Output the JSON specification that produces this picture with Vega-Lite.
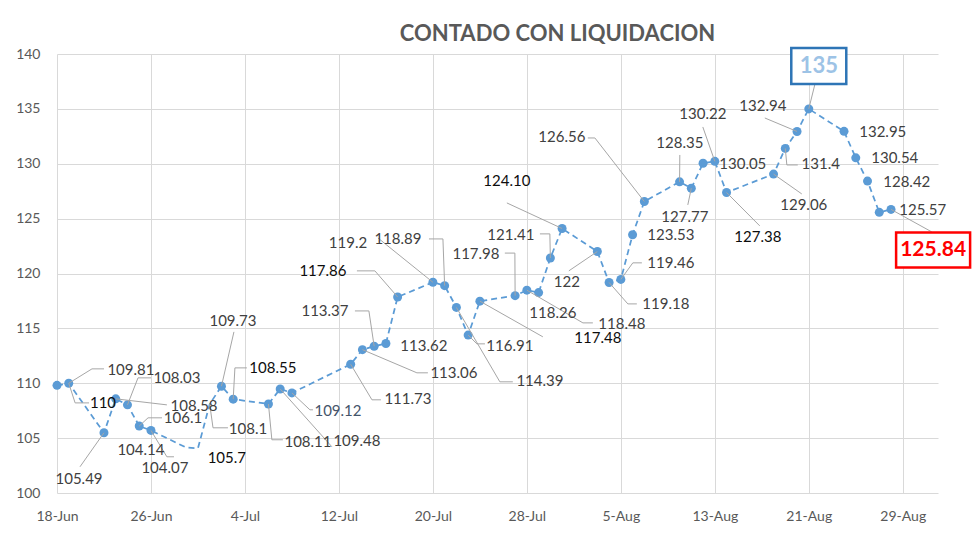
{
  "$schema": "https://vega.github.io/schema/vega-lite/v6.json",
  "width": 881,
  "height": 439,
  "autosize": {"type": "none"},
  "padding": {"left": 57, "top": 54, "right": 42, "bottom": 46},
  "background": "#ffffff",
  "title": {
    "text": "CONTADO CON LIQUIDACION",
    "font": "Lato",
    "fontSize": 22,
    "fontWeight": "bold",
    "color": "#595959",
    "anchor": "middle",
    "dx": 60,
    "offset": -3
  },
  "config": {
    "font": "Lato",
    "view": {"stroke": null},
    "axis": {
      "grid": true,
      "gridColor": "#d9d9d9",
      "gridWidth": 1,
      "domain": false,
      "ticks": false,
      "labelFont": "Lato",
      "labelFontSize": 14,
      "labelColor": "#595959",
      "labelOverlap": false,
      "labelFlush": false,
      "title": null
    }
  },
  "datasets": {
    "ccl": [
      {"date": "2020-06-18", "value": 109.81},
      {"date": "2020-06-19", "value": 110},
      {"date": "2020-06-22", "value": 105.49},
      {"date": "2020-06-23", "value": 108.58},
      {"date": "2020-06-24", "value": 108.03},
      {"date": "2020-06-25", "value": 106.1},
      {"date": "2020-06-26", "value": 105.7},
      {"date": "2020-06-29", "value": 104.14},
      {"date": "2020-06-30", "value": 104.07},
      {"date": "2020-07-01", "value": 108.1},
      {"date": "2020-07-02", "value": 109.73},
      {"date": "2020-07-03", "value": 108.55},
      {"date": "2020-07-06", "value": 108.11},
      {"date": "2020-07-07", "value": 109.48},
      {"date": "2020-07-08", "value": 109.12},
      {"date": "2020-07-13", "value": 111.73},
      {"date": "2020-07-14", "value": 113.06},
      {"date": "2020-07-15", "value": 113.37},
      {"date": "2020-07-16", "value": 113.62},
      {"date": "2020-07-17", "value": 117.86},
      {"date": "2020-07-20", "value": 119.2},
      {"date": "2020-07-21", "value": 118.89},
      {"date": "2020-07-22", "value": 116.91},
      {"date": "2020-07-23", "value": 114.39},
      {"date": "2020-07-24", "value": 117.48},
      {"date": "2020-07-27", "value": 117.98},
      {"date": "2020-07-28", "value": 118.48},
      {"date": "2020-07-29", "value": 118.26},
      {"date": "2020-07-30", "value": 121.41},
      {"date": "2020-07-31", "value": 124.1},
      {"date": "2020-08-03", "value": 122},
      {"date": "2020-08-04", "value": 119.18},
      {"date": "2020-08-05", "value": 119.46},
      {"date": "2020-08-06", "value": 123.53},
      {"date": "2020-08-07", "value": 126.56},
      {"date": "2020-08-10", "value": 128.35},
      {"date": "2020-08-11", "value": 127.77},
      {"date": "2020-08-12", "value": 130.05},
      {"date": "2020-08-13", "value": 130.22},
      {"date": "2020-08-14", "value": 127.38},
      {"date": "2020-08-18", "value": 129.06},
      {"date": "2020-08-19", "value": 131.4},
      {"date": "2020-08-20", "value": 132.94},
      {"date": "2020-08-21", "value": 135},
      {"date": "2020-08-24", "value": 132.95},
      {"date": "2020-08-25", "value": 130.54},
      {"date": "2020-08-26", "value": 128.42},
      {"date": "2020-08-27", "value": 125.57},
      {"date": "2020-08-28", "value": 125.84}
    ],
    "labels": [
      {"label": "109.81", "date": "2020-06-19", "value": 110, "tx": "2020-06-24T07:00Z", "ty": 111.22, "ex": "2020-06-20T23:30Z", "ey": 111.31, "hx": "2020-06-22T00:00Z"},
      {"label": "110", "date": "2020-06-19", "value": 110, "tx": "2020-06-21T22:00Z", "ty": 108.21, "ex": "2020-06-19T13:00Z", "ey": 108.21, "hx": "2020-06-20T17:30Z"},
      {"label": "105.49", "date": "2020-06-22", "value": 105.49, "tx": "2020-06-19T21:00Z", "ty": 101.29, "ex": "2020-06-19T23:00Z", "ey": 102.39},
      {"label": "108.58", "date": "2020-06-23", "value": 108.58, "tx": "2020-06-29T16:00Z", "ty": 107.94, "ex": "2020-06-27T08:30Z", "ey": 108.03},
      {"label": "108.03", "date": "2020-06-24", "value": 108.03, "tx": "2020-06-28T05:00Z", "ty": 110.49, "ex": "2020-06-24T21:30Z", "ey": 110.49, "hx": "2020-06-26T00:00Z"},
      {"label": "106.1", "date": "2020-06-25", "value": 106.1, "tx": "2020-06-28T17:30Z", "ty": 106.85, "ex": "2020-06-25T18:00Z", "ey": 106.85, "hx": "2020-06-26T22:30Z"},
      {"label": "104.14", "date": "2020-06-29", "value": 104.14, "tx": "2020-06-25T03:30Z", "ty": 103.93},
      {"label": "104.07", "date": "2020-06-26", "value": 105.7, "tx": "2020-06-27T04:30Z", "ty": 102.3, "ex": "2020-06-27T08:30Z", "ey": 103.3, "hx": "2020-06-27T23:00Z"},
      {"label": "105.7", "date": "2020-06-26", "value": 105.7, "tx": "2020-07-02T11:00Z", "ty": 103.21},
      {"label": "109.73", "date": "2020-07-02", "value": 109.73, "tx": "2020-07-02T23:30Z", "ty": 115.68, "ex": "2020-07-03T01:30Z", "ey": 114.68},
      {"label": "108.55", "date": "2020-07-03", "value": 108.55, "tx": "2020-07-06T09:00Z", "ty": 111.4, "ex": "2020-07-03T03:30Z", "ey": 111.4, "hx": "2020-07-04T04:00Z"},
      {"label": "108.1", "date": "2020-07-01", "value": 108.1, "tx": "2020-07-04T06:15Z", "ty": 105.85, "ex": "2020-07-01T06:45Z", "ey": 105.94, "hx": "2020-07-02T13:15Z"},
      {"label": "108.11", "date": "2020-07-06", "value": 108.11, "tx": "2020-07-09T08:45Z", "ty": 104.66, "ex": "2020-07-06T07:00Z", "ey": 104.85, "hx": "2020-07-07T05:30Z"},
      {"label": "109.48", "date": "2020-07-07", "value": 109.48, "tx": "2020-07-13T12:45Z", "ty": 104.75, "ex": "2020-07-11T09:40Z", "ey": 104.21},
      {"label": "109.12", "date": "2020-07-08", "value": 109.12, "tx": "2020-07-11T22:00Z", "ty": 107.49, "ex": "2020-07-09T12:45Z", "ey": 107.58, "hx": "2020-07-09T19:00Z"},
      {"label": "111.73", "date": "2020-07-13", "value": 111.73, "tx": "2020-07-17T21:00Z", "ty": 108.58, "ex": "2020-07-14T19:30Z", "ey": 108.49, "hx": "2020-07-15T13:45Z"},
      {"label": "113.06", "date": "2020-07-14", "value": 113.06, "tx": "2020-07-21T19:00Z", "ty": 110.95, "ex": "2020-07-18T15:20Z", "ey": 110.95, "hx": "2020-07-19T13:45Z"},
      {"label": "113.37", "date": "2020-07-15", "value": 113.37, "tx": "2020-07-10T19:30Z", "ty": 116.59, "ex": "2020-07-14T13:15Z", "ey": 116.59, "hx": "2020-07-13T08:40Z"},
      {"label": "113.62", "date": "2020-07-16", "value": 113.62, "tx": "2020-07-19T05:30Z", "ty": 113.41},
      {"label": "117.86", "date": "2020-07-17", "value": 117.86, "tx": "2020-07-10T15:20Z", "ty": 120.24, "ex": "2020-07-15T01:30Z", "ey": 120.24, "hx": "2020-07-13T12:45Z"},
      {"label": "119.2", "date": "2020-07-20", "value": 119.2, "tx": "2020-07-12T18:30Z", "ty": 122.79, "ex": "2020-07-15T07:40Z", "ey": 123.24},
      {"label": "118.89", "date": "2020-07-21", "value": 118.89, "tx": "2020-07-17T00:30Z", "ty": 123.15, "ex": "2020-07-20T20:30Z", "ey": 123.15, "hx": "2020-07-19T16:00Z"},
      {"label": "114.39", "date": "2020-07-22", "value": 116.91, "tx": "2020-07-29T02:40Z", "ty": 110.22, "ex": "2020-07-25T16:50Z", "ey": 110.13, "hx": "2020-07-26T19:20Z"},
      {"label": "116.91", "date": "2020-07-23", "value": 114.39, "tx": "2020-07-26T13:15Z", "ty": 113.41, "ex": "2020-07-23T17:50Z", "ey": 113.59, "hx": "2020-07-24T10:20Z"},
      {"label": "117.48", "date": "2020-07-24", "value": 117.48, "tx": "2020-08-03T01:00Z", "ty": 114.13, "ex": "2020-07-29T08:40Z", "ey": 114.23},
      {"label": "117.98", "date": "2020-07-27", "value": 117.98, "tx": "2020-07-23T16:00Z", "ty": 121.79, "ex": "2020-07-26T23:30Z", "ey": 121.86, "hx": "2020-07-26T03:00Z"},
      {"label": "118.26", "date": "2020-07-29", "value": 118.26, "tx": "2020-07-30T05:00Z", "ty": 116.41},
      {"label": "118.48", "date": "2020-07-28", "value": 118.48, "tx": "2020-08-05T02:00Z", "ty": 115.41, "ex": "2020-08-01T18:30Z", "ey": 115.5, "hx": "2020-08-02T14:50Z"},
      {"label": "121.41", "date": "2020-07-30", "value": 121.41, "tx": "2020-07-26T15:20Z", "ty": 123.52, "ex": "2020-07-29T23:00Z", "ey": 123.61, "hx": "2020-07-29T02:40Z"},
      {"label": "124.10", "date": "2020-07-31", "value": 124.1, "tx": "2020-07-26T07:10Z", "ty": 128.43, "ex": "2020-07-26T07:10Z", "ey": 126.43},
      {"label": "122", "date": "2020-08-03", "value": 122, "tx": "2020-07-31T09:40Z", "ty": 119.23, "ex": "2020-07-31T13:45Z", "ey": 120.24},
      {"label": "119.18", "date": "2020-08-04", "value": 119.18, "tx": "2020-08-08T20:00Z", "ty": 117.23, "ex": "2020-08-05T14:20Z", "ey": 117.23, "hx": "2020-08-06T08:40Z"},
      {"label": "119.46", "date": "2020-08-05", "value": 119.46, "tx": "2020-08-09T06:10Z", "ty": 120.97, "ex": "2020-08-06T00:30Z", "ey": 120.97, "hx": "2020-08-06T19:00Z"},
      {"label": "123.53", "date": "2020-08-06", "value": 123.53, "tx": "2020-08-09T06:10Z", "ty": 123.52},
      {"label": "126.56", "date": "2020-08-07", "value": 126.56, "tx": "2020-07-30T23:30Z", "ty": 132.44, "ex": "2020-08-02T19:00Z", "ey": 132.35, "hx": "2020-08-02T04:30Z"},
      {"label": "128.35", "date": "2020-08-10", "value": 128.35, "tx": "2020-08-10T00:30Z", "ty": 131.89, "ex": "2020-08-10T00:30Z", "ey": 130.8},
      {"label": "127.77", "date": "2020-08-11", "value": 127.77, "tx": "2020-08-10T10:50Z", "ty": 125.15, "ex": "2020-08-10T16:50Z", "ey": 126.25},
      {"label": "130.22", "date": "2020-08-13", "value": 130.22, "tx": "2020-08-11T23:30Z", "ty": 134.54, "ex": "2020-08-11T23:30Z", "ey": 133.35},
      {"label": "130.05", "date": "2020-08-12", "value": 130.05, "tx": "2020-08-15T09:10Z", "ty": 129.98},
      {"label": "127.38", "date": "2020-08-14", "value": 127.38, "tx": "2020-08-16T15:50Z", "ty": 123.33, "ex": "2020-08-16T19:50Z", "ey": 124.34},
      {"label": "129.06", "date": "2020-08-18", "value": 129.06, "tx": "2020-08-20T13:45Z", "ty": 126.25, "ex": "2020-08-20T09:40Z", "ey": 127.25},
      {"label": "131.4", "date": "2020-08-19", "value": 131.4, "tx": "2020-08-22T00:30Z", "ty": 129.98, "ex": "2020-08-19T03:10Z", "ey": 129.89, "hx": "2020-08-20T01:30Z"},
      {"label": "132.94", "date": "2020-08-20", "value": 132.94, "tx": "2020-08-17T02:10Z", "ty": 135.26, "ex": "2020-08-17T06:10Z", "ey": 134.17},
      {"label": "132.95", "date": "2020-08-24", "value": 132.95, "tx": "2020-08-27T07:10Z", "ty": 132.9},
      {"label": "130.54", "date": "2020-08-25", "value": 130.54, "tx": "2020-08-28T07:40Z", "ty": 130.53},
      {"label": "128.42", "date": "2020-08-26", "value": 128.42, "tx": "2020-08-29T08:10Z", "ty": 128.34},
      {"label": "125.57", "date": "2020-08-27", "value": 125.57, "tx": "2020-08-30T16:50Z", "ty": 125.79},
      {"label": "135", "date": "2020-08-21", "value": 135, "tx": "2020-08-21T20:25Z", "ty": 138.91, "ex": "2020-08-21T12:15Z", "ey": 137.2},
      {"label": "125.84", "date": "2020-08-28", "value": 125.84, "tx": "2020-08-31T14:00Z", "ty": 122.15, "ex": "2020-08-31T11:15Z", "ey": 123.79}
    ]
  },
  "layer": [
    {
      "data": {"name": "ccl", "format": {"parse": {"date": "date"}}},
      "mark": {"type": "line", "color": "#5b9bd5", "strokeWidth": 1.75, "strokeDash": [6, 4]},
      "encoding": {
        "x": {
          "field": "date",
          "type": "temporal",
          "title": null,
          "scale": {
            "type": "utc",
            "nice": false,
            "domain": [
              {"year": 2020, "month": 6, "date": 18, "utc": true},
              {"year": 2020, "month": 9, "date": 1, "utc": true}
            ]
          },
          "axis": {
            "format": "%-d-%b",
            "labelPadding": 16,
            "values": [
              {"year": 2020, "month": 6, "date": 18, "utc": true},
              {"year": 2020, "month": 6, "date": 26, "utc": true},
              {"year": 2020, "month": 7, "date": 4, "utc": true},
              {"year": 2020, "month": 7, "date": 12, "utc": true},
              {"year": 2020, "month": 7, "date": 20, "utc": true},
              {"year": 2020, "month": 7, "date": 28, "utc": true},
              {"year": 2020, "month": 8, "date": 5, "utc": true},
              {"year": 2020, "month": 8, "date": 13, "utc": true},
              {"year": 2020, "month": 8, "date": 21, "utc": true},
              {"year": 2020, "month": 8, "date": 29, "utc": true}
            ]
          }
        },
        "y": {
          "field": "value",
          "type": "quantitative",
          "title": null,
          "scale": {"domain": [100, 140], "nice": false, "zero": false},
          "axis": {"values": [100, 105, 110, 115, 120, 125, 130, 135, 140], "labelPadding": 17}
        }
      }
    },
    {
      "data": {"name": "ccl", "format": {"parse": {"date": "date"}}},
      "transform": [
        {"filter": {"not": {"field": "date", "range": [
          {"year": 2020, "month": 6, "date": 29, "utc": true},
          {"year": 2020, "month": 7, "date": 1, "utc": true}
        ]}}}
      ],
      "mark": {"type": "point", "filled": true, "color": "#5b9bd5", "size": 81, "opacity": 1},
      "encoding": {
        "x": {"field": "date", "type": "temporal", "title": null},
        "y": {"field": "value", "type": "quantitative", "title": null}
      }
    },
    {
      "data": {"name": "labels", "format": {"parse": {"date": "date", "tx": "date", "ex": "date", "hx": "date"}}},
      "transform": [{"filter": "isValid(datum.ex)"}],
      "mark": {"type": "rule", "color": "#a6a6a6", "strokeWidth": 1},
      "encoding": {
        "x": {"field": "date", "type": "temporal", "title": null},
        "y": {"field": "value", "type": "quantitative", "title": null},
        "x2": {"field": "ex"},
        "y2": {"field": "ey"}
      }
    },
    {
      "data": {"name": "labels", "format": {"parse": {"date": "date", "tx": "date", "ex": "date", "hx": "date"}}},
      "transform": [{"filter": "isValid(datum.hx)"}],
      "mark": {"type": "rule", "color": "#a6a6a6", "strokeWidth": 1},
      "encoding": {
        "x": {"field": "ex", "type": "temporal", "title": null},
        "x2": {"field": "hx"},
        "y": {"field": "ey", "type": "quantitative", "title": null}
      }
    },
    {
      "data": {"name": "labels", "format": {"parse": {"date": "date", "tx": "date", "ex": "date", "hx": "date"}}},
      "transform": [{"filter": "datum.label === '135'"}],
      "mark": {"type": "point", "shape": "M-1,-0.655L1,-0.655L1,0.655L-1,0.655Z", "size": 3025, "filled": false, "fill": "#ffffff", "fillOpacity": 1, "stroke": "#2e75b6", "strokeWidth": 2.5, "opacity": 1},
      "encoding": {
        "x": {"field": "tx", "type": "temporal", "title": null},
        "y": {"field": "ty", "type": "quantitative", "title": null}
      }
    },
    {
      "data": {"name": "labels", "format": {"parse": {"date": "date", "tx": "date", "ex": "date", "hx": "date"}}},
      "transform": [{"filter": "datum.label === '125.84'"}],
      "mark": {"type": "point", "shape": "M-1,-0.473L1,-0.473L1,0.473L-1,0.473Z", "size": 5476, "filled": false, "fill": "#ffffff", "fillOpacity": 1, "stroke": "#ff0000", "strokeWidth": 2.5, "opacity": 1},
      "encoding": {
        "x": {"field": "tx", "type": "temporal", "title": null},
        "y": {"field": "ty", "type": "quantitative", "title": null}
      }
    },
    {
      "data": {"name": "labels", "format": {"parse": {"date": "date", "tx": "date", "ex": "date", "hx": "date"}}},
      "transform": [{"filter": "datum.label !== '135' && datum.label !== '125.84'"}],
      "mark": {"type": "text", "font": "Lato", "fontSize": 15, "align": "center", "baseline": "middle"},
      "encoding": {
        "x": {"field": "tx", "type": "temporal", "title": null},
        "y": {"field": "ty", "type": "quantitative", "title": null},
        "text": {"field": "label"},
        "color": {
          "condition": [
            {"test": "indexof(['110','105.7','108.55','117.86','117.48','124.10','127.38'], datum.label) >= 0", "value": "#0d0d0d"},
            {"test": "datum.label === '109.12'", "value": "#44546a"}
          ],
          "value": "#404040"
        }
      }
    },
    {
      "data": {"name": "labels", "format": {"parse": {"date": "date", "tx": "date", "ex": "date", "hx": "date"}}},
      "transform": [{"filter": "datum.label === '135'"}],
      "mark": {"type": "text", "font": "Lato", "fontSize": 22, "fontWeight": "bold", "color": "#9dc3e6", "align": "center", "baseline": "middle"},
      "encoding": {
        "x": {"field": "tx", "type": "temporal", "title": null},
        "y": {"field": "ty", "type": "quantitative", "title": null},
        "text": {"field": "label"}
      }
    },
    {
      "data": {"name": "labels", "format": {"parse": {"date": "date", "tx": "date", "ex": "date", "hx": "date"}}},
      "transform": [{"filter": "datum.label === '125.84'"}],
      "mark": {"type": "text", "font": "Lato", "fontSize": 21, "fontWeight": "bold", "color": "#ff0000", "align": "center", "baseline": "middle"},
      "encoding": {
        "x": {"field": "tx", "type": "temporal", "title": null},
        "y": {"field": "ty", "type": "quantitative", "title": null},
        "text": {"field": "label"}
      }
    }
  ]
}
